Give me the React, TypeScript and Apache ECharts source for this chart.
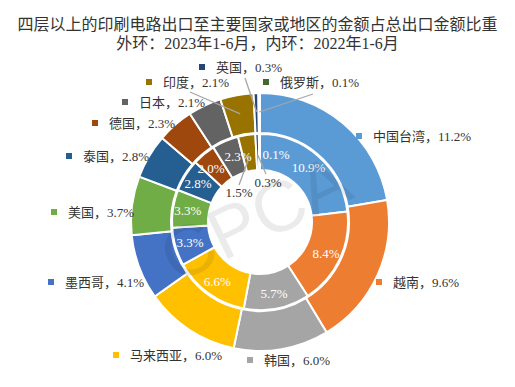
import React, { useEffect, useRef } from 'react';
import * as echarts from 'echarts';

const categories = ['中国台湾', '越南', '韩国', '马来西亚', '墨西哥', '美国', '泰国', '德国', '日本', '印度', '英国', '俄罗斯'];
const outer2023 = [11.2, 9.6, 6.0, 6.0, 4.1, 3.7, 2.8, 2.3, 2.1, 2.1, 0.3, 0.1];
const inner2022 = [10.9, 8.4, 5.7, 6.6, 3.3, 3.3, 2.8, 2.0, 2.3, 1.5, 0.3, 0.1];
const colors = ['#5B9BD5', '#ED7D31', '#A5A5A5', '#FFC000', '#4472C4', '#70AD47', '#255E91', '#9E480E', '#636363', '#997300', '#264478', '#43682B'];
const titleLine1 = '四层以上的印刷电路出口至主要国家或地区的金额占总出口金额比重';
const titleLine2 = '外环：2023年1-6月，内环：2022年1-6月';
const watermark = 'CPCA';

// layout only
const CENTER = [260, 222];
const OUTER_R = [89, 129];
const INNER_R = [52, 88];
const outerLabelPos: number[][] = [[356, 136], [376, 282], [247, 360], [113, 355], [48, 282], [51, 212], [66, 156], [92, 123], [122, 102], [146, 82], [199, 67], [263, 82]];
const innerLabelPos: Record<number, number[]> = { 7: [211, 168], 8: [238, 156], 9: [239, 192], 10: [268, 182], 11: [276, 154] };
const innerOutside = [9, 10];
// leader lines: slice index -> label end point (layout)
const outerLeaderEnds: Record<number, number[]> = { 9: [190, 92], 10: [245, 78], 11: [313, 94] };
const innerLeaderEnds: Record<number, number[]> = { 9: [239, 185], 10: [266, 174] };

const FONT = "'Liberation Serif', 'Noto Sans CJK SC', serif";

// point at the middle angle of slice i (clockwise from 12 o'clock), at radius r
function sliceMid(values: number[], i: number, r: number) {
  const total = values.reduce((a, b) => a + b, 0);
  let cum = 0;
  for (let k = 0; k < i; k++) cum += values[k];
  const a = ((cum + values[i] / 2) / total) * Math.PI * 2;
  return [CENTER[0] + Math.sin(a) * r, CENTER[1] - Math.cos(a) * r];
}

function leaders(values: number[], ends: Record<number, number[]>, r: number) {
  return Object.keys(ends).map((k) => {
    const i = Number(k);
    const s = sliceMid(values, i, r);
    const e = ends[i];
    return {
      type: 'line',
      z: 50,
      silent: true,
      shape: { x1: s[0], y1: s[1], x2: e[0], y2: e[1] },
      style: { stroke: '#A6A6A6', lineWidth: 1.3 },
    };
  });
}

export default function App() {
  const ref = useRef<HTMLDivElement>(null);
  useEffect(() => {
    if (!ref.current) return;
    const chart = echarts.init(ref.current, undefined, { renderer: 'svg' });
    const rich: Record<string, any> = {
      t: { fontSize: 13, color: '#333', fontFamily: FONT, padding: [0, 0, 0, 11] },
    };
    colors.forEach((c, i) => {
      rich['m' + i] = { width: 6, height: 6, backgroundColor: c };
    });
    const titleStyle = { fontSize: 16, fontWeight: 'normal', color: '#333', fontFamily: FONT };
    const option: any = {
      animation: false,
      backgroundColor: '#fff',
      title: [
        { text: titleLine1, left: 'center', top: 16, padding: 0, textStyle: titleStyle },
        { text: titleLine2, left: 'center', top: 35, padding: 0, textStyle: titleStyle },
      ],
      graphic: [
        ...leaders(outer2023, outerLeaderEnds, OUTER_R[0] + 21),
        ...leaders(inner2022, innerLeaderEnds, 67),
        {
          type: 'text',
          x: 255,
          y: 218,
          rotation: 0.45,
          z: 100,
          silent: true,
          style: {
            text: watermark,
            fill: 'rgba(0,0,0,0.08)',
            font: "72px 'Liberation Sans', Arial, sans-serif",
            textAlign: 'center',
            textVerticalAlign: 'middle',
          },
        },
      ],
      series: [
        {
          type: 'pie',
          name: '2023',
          center: CENTER,
          radius: OUTER_R,
          startAngle: 90,
          clockwise: true,
          avoidLabelOverlap: false,
          itemStyle: { borderColor: '#fff', borderWidth: 2 },
          label: {
            show: true,
            position: 'outside',
            formatter: (p: any) => `{m${p.dataIndex}|}{t|${p.name}，${p.value.toFixed(1)}%}`,
            rich,
          },
          labelLine: { show: false },
          labelLayout: (p: any) => {
            const pos = outerLabelPos[p.dataIndex];
            return { x: pos[0], y: pos[1], align: 'left', verticalAlign: 'middle' };
          },
          data: categories.map((name, i) => ({
            name,
            value: outer2023[i],
            itemStyle: { color: colors[i] },
          })),
        },
        {
          type: 'pie',
          name: '2022',
          center: CENTER,
          radius: INNER_R,
          startAngle: 90,
          clockwise: true,
          avoidLabelOverlap: false,
          itemStyle: { borderColor: '#fff', borderWidth: 2 },
          label: {
            show: true,
            position: 'inside',
            color: '#fff',
            fontSize: 13,
            fontFamily: FONT,
            formatter: (p: any) => `${p.value.toFixed(1)}%`,
          },
          labelLine: { show: false },
          labelLayout: (p: any) => {
            const pos = innerLabelPos[p.dataIndex];
            if (!pos) return {};
            return { x: pos[0], y: pos[1], align: 'center', verticalAlign: 'middle' };
          },
          data: categories.map((name, i) => {
            const outside = innerOutside.includes(i);
            return {
              name,
              value: inner2022[i],
              itemStyle: { color: colors[i] },
              label: outside ? { position: 'outside', color: '#333' } : undefined,
            };
          }),
        },
      ],
    };
    chart.setOption(option);
    return () => chart.dispose();
  }, []);
  return <div ref={ref} style={{ position: 'absolute', left: 0, top: 0, width: 515, height: 387 }} />;
}
